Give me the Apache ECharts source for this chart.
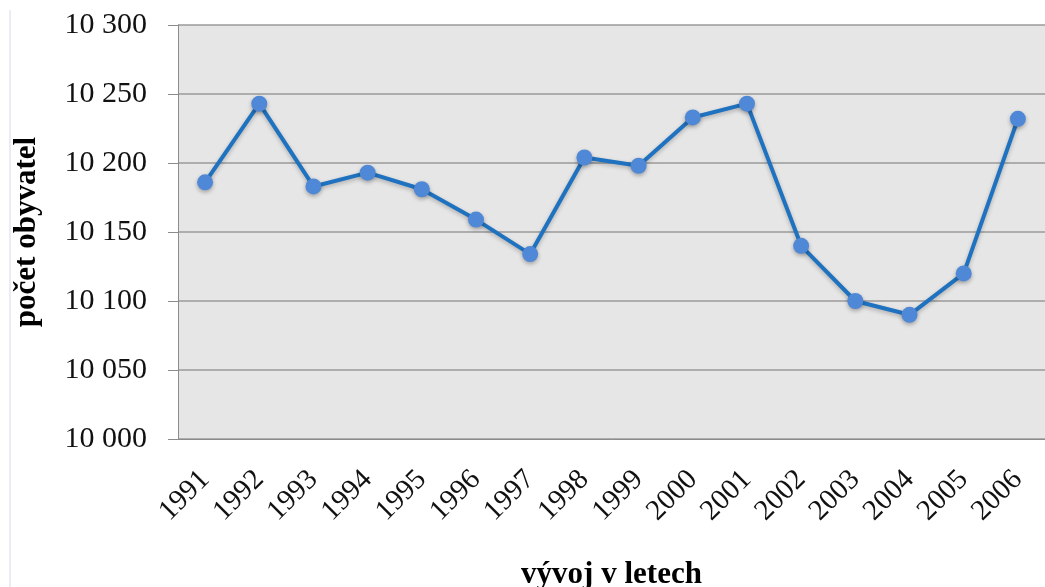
<!DOCTYPE html>
<html>
<head>
<meta charset="utf-8">
<script src="https://cdn.jsdelivr.net/npm/echarts@6/dist/echarts.min.js"></script>
<style>
  html, body { margin: 0; padding: 0; background: #fff; }
  #main { width: 1045px; height: 587px; }
</style>
</head>
<body>
<div id="main"></div>
<script>
// roky a počet obyvatel
const years = ['1991', '1992', '1993', '1994', '1995', '1996', '1997', '1998',
  '1999', '2000', '2001', '2002', '2003', '2004', '2005', '2006']
const population = [10186, 10243, 10183, 10193, 10181, 10159, 10134, 10204,
  10198, 10233, 10243, 10140, 10100, 10090, 10120, 10232]
const yTicks = [10000, 10050, 10100, 10150, 10200, 10250, 10300]

const serif = '"Liberation Serif", "DejaVu Serif", serif'

const fmt = v => {
  const s = String(v)
  return s.slice(0, s.length - 3) + ' ' + s.slice(-3)
}

const myChart = echarts.init(document.getElementById('main'))
const option = {
  animation: false,
  backgroundColor: '#fff',
  graphic: [
    {
      type: 'line',
      shape: { x1: 10, y1: 10, x2: 10, y2: 587 },
      style: { stroke: '#d8d8ee', lineWidth: 1 }
    }
  ],
  grid: {
    left: 178,
    right: 0,
    top: 25,
    bottom: 148,
    outerBoundsMode: 'none',
    containLabel: false,
    show: true,
    backgroundColor: '#e6e6e6',
    borderWidth: 0
  },
  xAxis: {
    type: 'category',
    data: years,
    boundaryGap: true,
    name: 'vývoj v letech',
    nameLocation: 'middle',
    nameGap: 120,
    nameTextStyle: {
      fontFamily: serif,
      fontWeight: 'bold',
      fontSize: 31,
      color: '#000'
    },
    axisLine: { show: true, lineStyle: { color: '#8c8c8c', width: 1 } },
    axisTick: { show: false },
    axisLabel: {
      rotate: 45,
      margin: 36,
      fontFamily: serif,
      fontSize: 29,
      color: '#111'
    }
  },
  yAxis: {
    type: 'value',
    min: yTicks[0],
    max: yTicks[yTicks.length - 1],
    interval: 50,
    name: 'počet obyvatel',
    nameLocation: 'middle',
    nameGap: 136,
    nameRotate: 90,
    nameTextStyle: {
      fontFamily: serif,
      fontWeight: 'bold',
      fontSize: 31,
      color: '#000'
    },
    axisLine: { show: true, lineStyle: { color: '#8c8c8c', width: 1 } },
    axisTick: { show: true, length: 10, lineStyle: { color: '#8c8c8c' } },
    axisLabel: {
      margin: 31,
      fontFamily: serif,
      fontSize: 30,
      color: '#111',
      formatter: fmt
    },
    splitLine: { lineStyle: { color: '#9a9a9a', width: 1.5 } }
  },
  series: [
    {
      type: 'line',
      data: population,
      symbol: 'circle',
      symbolSize: 16,
      lineStyle: {
        color: '#1f72bf',
        width: 4,
        shadowColor: 'rgba(0,0,0,0.25)',
        shadowBlur: 4,
        shadowOffsetY: 2
      },
      itemStyle: {
        color: '#4f88d6',
        shadowColor: 'rgba(0,0,0,0.3)',
        shadowBlur: 4,
        shadowOffsetY: 2
      }
    }
  ]
}
myChart.setOption(option)
</script>
</body>
</html>
